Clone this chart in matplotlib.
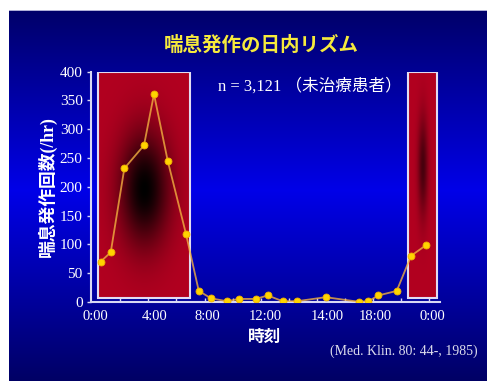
import numpy as np
import matplotlib
matplotlib.use("Agg")
import matplotlib.pyplot as plt
from matplotlib.patches import Rectangle

# Asthma attacks per hour over the day (untreated patients, n = 3,121)
hours = [0.41, 1.12, 2.09, 3.49, 4.20, 5.18, 6.48, 7.39, 8.26, 9.40, 10.26,
         11.45, 12.30, 13.37, 14.37, 16.43, 18.80, 19.47, 20.18, 21.49, 22.51, 23.55]
attacks = [70, 86, 232, 272, 361, 245, 118, 19, 6, 1, 5,
           5, 11, 1, 1, 8, 0, 1, 11, 19, 80, 98]

# Night-time bands (hours)
night_bands = [(0.19, 6.77), (22.27, 24.38)]

tick_hours = [0, 4.27, 7.98, 12.1, 16.52, 19.94, 24.0]
tick_labels = ["0:00", "4:00", "8:00", "12:00", "14:00", "18:00", "0:00"]
y_ticks = [0, 50, 100, 150, 200, 250, 300, 350, 400]

W, H = 487, 381
fig = plt.figure(figsize=(W / 100, H / 100), dpi=100)

# Slide background: vertical navy -> bright blue -> navy gradient
bg = np.ones((H, W, 3))
rows = np.arange(H)
blue = np.interp(rows, [10, 190, 381], [105, 232, 100]) / 255.0
bg[:, :, 0] = 0.0
bg[:, :, 1] = 0.0
bg[:, :, 2] = blue[:, None]
bg[:10, :, :] = 1.0
bg[:, :9, :] = 1.0
bg[10, 9:, :] = np.array([175, 175, 215]) / 255.0
bax = fig.add_axes([0, 0, 1, 1])
bax.imshow(bg, aspect="auto", extent=(0, 1, 0, 1), origin="upper")
bax.set_axis_off()

ax = fig.add_axes([91 / W, (H - 301.8) / H, (440 - 91) / W, (301.8 - 71.7) / H])
ax.set_facecolor("none")
ax.set_xlim(-0.285, 24.57)
ax.set_ylim(0, 400)

red = np.array([178, 0, 32]) / 255.0


def band_image(cu, cv, su, sv, strength, n=200):
    u = np.linspace(0, 1, n)[None, :]
    v = np.linspace(0, 1, n)[:, None]
    dark = strength * np.exp(-(((u - cu) / su) ** 2 + ((v - cv) / sv) ** 2))
    return red[None, None, :] * (1 - dark)[:, :, None]


band_styles = [(0.5, 0.52, 0.27, 0.25, 1.0), (0.5, 0.42, 0.17, 0.22, 0.6)]
band_bottom = 6.6
for (x0, x1), style in zip(night_bands, band_styles):
    img = band_image(*style)
    ax.imshow(img, extent=(x0, x1, band_bottom, 400), aspect="auto",
              origin="upper", zorder=1)
    ax.add_patch(Rectangle((x0, band_bottom), x1 - x0, 400 - band_bottom,
                           fill=False, edgecolor="#e2dcf2", lw=1.5, zorder=2))

ax.plot(hours, attacks, color="#f2b040", alpha=0.8, lw=1.3, zorder=3)
ax.plot(hours, attacks, ls="none", marker="o", ms=5,
        mfc="#ffd400", mec="#f0b000", mew=0.6, zorder=4)

for side in ("top", "right"):
    ax.spines[side].set_visible(False)
for side in ("left", "bottom"):
    ax.spines[side].set_color("#d8d8f4")
    ax.spines[side].set_linewidth(1.5)

serif = ["Liberation Serif", "DejaVu Serif"]
ax.set_yticks(y_ticks)
ax.set_yticklabels([str(v) for v in y_ticks], family=serif, fontsize=11,
                   color="white")
ax.tick_params(axis="y", direction="out", length=3, width=1, color="#d8d8f4", pad=3)

ax.set_xticks(tick_hours)
ax.set_xticklabels(tick_labels, family=serif, fontsize=10.5, color="white")
ax.tick_params(axis="x", which="major", length=0, pad=6)
ax.set_xticks(np.arange(1.8, 24, 2.0), minor=True)
ax.tick_params(axis="x", which="minor", direction="in", length=3, width=1,
               color="#d8d8f4")

cjk = ["Liberation Serif", "Noto Sans CJK JP"]
fig.text(261 / W, 1 - 45 / H, "喘息発作の日内リズム", ha="center", va="center",
         family="Noto Sans CJK JP", fontweight="bold", fontsize=14, color="#f6ea3c")
fig.text(218 / W, 1 - 86 / H, "n = 3,121 （未治療患者）", ha="left", va="center",
         family=cjk, fontsize=12, color="white")
fig.text(47 / W, 1 - 187 / H, "喘息発作回数(/hr)", ha="center", va="center",
         rotation=90, family=cjk, fontsize=12.8, color="white", fontweight="bold")
fig.text(265 / W, 1 - 337 / H, "時刻", ha="center", va="center",
         family="Noto Sans CJK JP", fontweight="bold", fontsize=12, color="white")
fig.text(478 / W, 1 - 351 / H, "(Med. Klin. 80: 44-, 1985)", ha="right",
         va="center", family=serif, fontsize=10, color="#dcdcec")

fig.savefig("out.png", dpi=100)
